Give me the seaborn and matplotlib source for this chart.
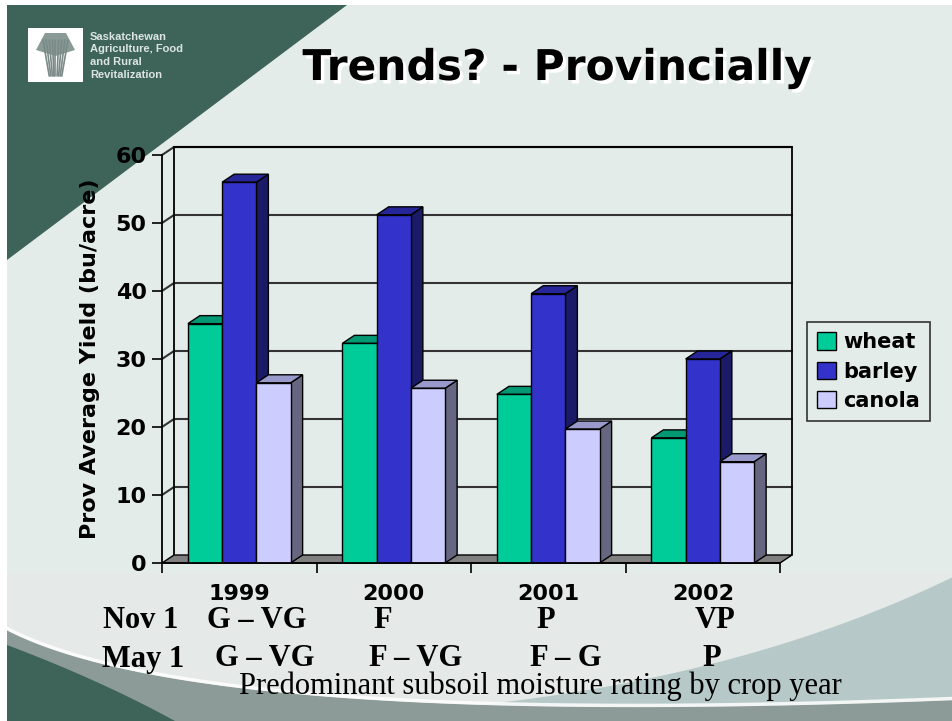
import numpy as np
import pandas as pd
import matplotlib
matplotlib.use("Agg")
import matplotlib.pyplot as plt
import matplotlib.patheffects as pe
import seaborn as sns
from matplotlib.patches import Polygon, Rectangle, Patch

# ---------------- data ----------------
years = ["1999", "2000", "2001", "2002"]
crops = ["wheat", "barley", "canola"]
wheat = [35.2, 32.3, 24.8, 18.4]
barley = [56.0, 51.2, 39.6, 30.0]
canola = [26.5, 25.7, 19.7, 14.9]
nov_rating = ["G – VG", "F", "P", "VP"]
may_rating = ["G – VG", "F – VG", "F – G", "P"]
y_ticks = [0, 10, 20, 30, 40, 50, 60]

df = pd.DataFrame({
    "year": years * 3,
    "crop": [c for c in crops for _ in years],
    "yield": wheat + barley + canola,
})

front = {"wheat": "#00CC99", "barley": "#3333CC", "canola": "#CCCCFF"}
top_c = ["#009973", "#262699", "#9999CC"]
side_c = ["#006B50", "#1A1A66", "#666680"]
BG = "#E3ECE8"
DKG = "#3E645A"

sns.set_theme(style="white")
plt.rcParams["font.family"] = ["DejaVu Sans"]
for key in ["text.color", "axes.labelcolor", "xtick.color", "ytick.color"]:
    plt.rcParams[key] = "black"

W, H = 953, 721
fig = plt.figure(figsize=(W / 100, H / 100), dpi=100)
fig.patch.set_facecolor("white")

# ---------------- background decoration (pixel coords) ----------------
bg = fig.add_axes([0, 0, 1, 1], zorder=-5)
bg.set_xlim(0, W)
bg.set_ylim(H, 0)
bg.axis("off")
bg.add_patch(Rectangle((7, 5), W - 7, H - 5, color=BG, lw=0))
bg.add_patch(Rectangle((7, 573), W - 7, H - 573, color="#E5E9E7", lw=0))
bg.add_patch(Polygon([(7, 5), (347, 5), (7, 260)], closed=True, color=DKG, lw=0))


def bez(p0, p1, p2, n=80):
    t = np.linspace(0, 1, n)[:, None]
    p0, p1, p2 = map(np.array, (p0, p1, p2))
    return (1 - t) ** 2 * p0 + 2 * (1 - t) * t * p1 + t ** 2 * p2


blue_top = bez((953, 577), (720, 690), (400, 712))
bg.add_patch(Polygon(np.vstack([blue_top, [(400, 721), (953, 721)]]), closed=True,
                     color="#B7C8C8", lw=0))
gray_top = bez((7, 630), (200, 730), (953, 700))
bg.add_patch(Polygon(np.vstack([gray_top, [(953, 721), (7, 721)]]), closed=True,
                     color="#8C9B97", lw=0))
bg.plot(gray_top[:, 0], gray_top[:, 1] - 1.5, color="white", lw=2.5, alpha=0.85)
dk_top = bez((7, 645), (100, 680), (175, 721))
bg.add_patch(Polygon(np.vstack([dk_top, [(7, 721)]]), closed=True, color=DKG, lw=0))

# logo
bg.add_patch(Rectangle((28, 28), 55, 54, color="white", lw=0))
for xx in np.linspace(43, 68, 9):
    bg.plot([xx, 55.5 + (xx - 55.5) * 0.5], [40, 76], color="#7A8A86", lw=1.2)
bg.add_patch(Polygon([(36, 50), (45, 33), (66, 33), (75, 50), (55.5, 56)], closed=True,
                     color="#8A9A96", lw=0))
for i, line in enumerate(["Saskatchewan", "Agriculture, Food", "and Rural", "Revitalization"]):
    bg.text(90, 37 + i * 12.5, line, fontsize=8, fontweight="bold", color="#DCE5E1",
            family="Liberation Sans", va="center", ha="left")

# title with white shadow
bg.text(557, 68, "Trends? - Provincially", fontsize=30.5, fontweight="bold", color="black",
        ha="center", va="center",
        path_effects=[pe.withSimplePatchShadow(offset=(2.5, -2.5), shadow_rgbFace="white",
                                               alpha=1.0)])

# ---------------- chart ----------------
L, R, B, T = 162, 780, 563, 155
ax = fig.add_axes([L / W, 1 - B / H, (R - L) / W, (B - T) / H])
ax.set_facecolor("none")

sns.barplot(data=df, x="year", y="yield", hue="crop", palette=front, width=0.665,
            gap=0, edgecolor="black", linewidth=1.0, saturation=1, ax=ax,
            legend=False, errorbar=None)
bars = [p for p in ax.patches if isinstance(p, Rectangle)]
bars = sorted(bars, key=lambda p: p.get_x())

ax.set_xlim(-0.5, 3.5)
ax.set_ylim(0, 60)

dx = 12 * 4 / (R - L)
dy = 8 * 60 / (B - T)
x0, x1 = -0.5, 3.5

# back wall gridlines & frame
for yv in y_ticks[1:]:
    ax.plot([x0, x0 + dx, x1 + dx], [yv, yv + dy, yv + dy], color="#333333", lw=1.5,
            clip_on=False, zorder=1)
ax.plot([x0 + dx, x0 + dx], [dy, 60 + dy], color="black", lw=1.3, clip_on=False, zorder=1)
ax.plot([x1 + dx, x1 + dx], [dy, 60 + dy], color="black", lw=1.3, clip_on=False, zorder=1)
ax.plot([x0 + dx, x1 + dx], [60 + dy, 60 + dy], color="black", lw=1.5, clip_on=False, zorder=1)
# floor
ax.add_patch(Polygon([(x0, 0), (x1, 0), (x1 + dx, dy), (x0 + dx, dy)], closed=True,
                     facecolor="#808080", edgecolor="black", lw=1.0, clip_on=False, zorder=1.5))

for i, p in enumerate(bars):
    bx, bw, bh = p.get_x(), p.get_width(), p.get_height()
    k = [j for j, c in enumerate(crops)
         if matplotlib.colors.same_color(p.get_facecolor()[:3], matplotlib.colors.to_rgb(front[c]))][0]
    z = 3 + i * 0.1
    ax.add_patch(Polygon([(bx + bw, 0), (bx + bw + dx, dy), (bx + bw + dx, bh + dy), (bx + bw, bh)],
                         closed=True, facecolor=side_c[k], edgecolor="black", lw=1.0,
                         zorder=z, clip_on=False))
    ax.add_patch(Polygon([(bx, bh), (bx + bw, bh), (bx + bw + dx, bh + dy), (bx + dx, bh + dy)],
                         closed=True, facecolor=top_c[k], edgecolor="black", lw=1.0,
                         zorder=z, clip_on=False))
    p.set_zorder(z + 0.05)

# axes styling
for s in ["top", "right"]:
    ax.spines[s].set_visible(False)
for s in ["left", "bottom"]:
    ax.spines[s].set_color("black")
    ax.spines[s].set_linewidth(1.3)
    ax.spines[s].set_zorder(10)
ax.set_yticks(y_ticks)
ax.set_yticklabels([str(v) for v in y_ticks], fontsize=16, fontweight="bold")
ax.tick_params(axis="y", direction="out", length=7, width=1.2, color="black", pad=4, left=True)
ax.set_xticks(range(len(years)))
ax.set_xticklabels(years, fontsize=16, fontweight="bold")
ax.tick_params(axis="x", length=0, pad=15)
ax.set_xticks([-0.5, 0.5, 1.5, 2.5, 3.5], minor=True)
ax.tick_params(axis="x", which="minor", direction="out", length=7, width=1.2, color="black",
               bottom=True)
ax.set_xlabel("")
ax.set_ylabel("Prov Average Yield (bu/acre)", fontsize=16, fontweight="bold", labelpad=11)
ax.grid(False)

# legend
handles = [Patch(facecolor=front[c], edgecolor="black", label=c) for c in crops]
leg = fig.legend(handles=handles, loc="center", bbox_to_anchor=(868.5 / W, 1 - 371.5 / H),
                 frameon=True, fancybox=False, edgecolor="#333333", facecolor=BG,
                 framealpha=1, prop={"weight": "bold", "size": 15}, handlelength=0.9,
                 handleheight=0.9, handletextpad=0.35, labelspacing=0.45, borderpad=0.5)
leg.get_frame().set_linewidth(1.2)

# moisture rating rows
serif = "Liberation Serif"
nov_x = [257, 383, 546, 715]
may_x = [265, 416, 566, 712]
bg.text(141, 620, "Nov 1", fontsize=22, fontweight="bold", family=serif, ha="center", va="center")
bg.text(143, 659, "May 1", fontsize=22, fontweight="bold", family=serif, ha="center", va="center")
for xx, t in zip(nov_x, nov_rating):
    bg.text(xx, 620, t, fontsize=22, fontweight="bold", family=serif, ha="center", va="center")
for xx, t in zip(may_x, may_rating):
    bg.text(xx, 659, t, fontsize=22, fontweight="bold", family=serif, ha="center", va="center")
bg.text(540, 686, "Predominant subsoil moisture rating by crop year", fontsize=22,
        family=serif, ha="center", va="center")

fig.savefig("out.png", dpi=100)
